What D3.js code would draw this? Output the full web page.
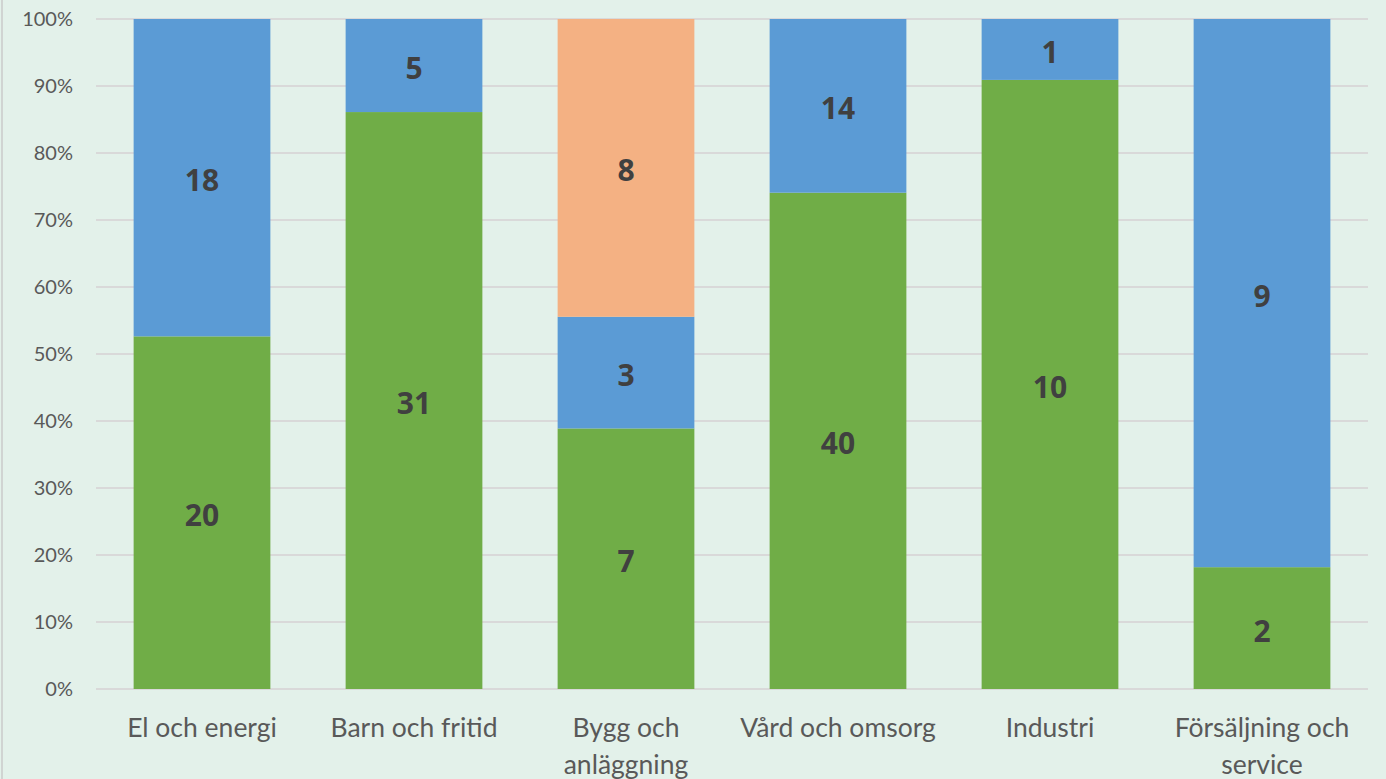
<!DOCTYPE html>
<html><head><meta charset="utf-8">
<script src="https://cdn.jsdelivr.net/npm/d3@7"></script>
<style>
html,body{margin:0;padding:0;background:#E3F1EA;}
svg{display:block;}
</style></head>
<body>
<svg id="chart" width="1386" height="779"></svg>
<script>
const categories = ["El och energi","Barn och fritid","Bygg och anläggning","Vård och omsorg","Industri","Försäljning och service"];
const categoryLines = [["El och energi"],["Barn och fritid"],["Bygg och","anläggning"],["Vård och omsorg"],["Industri"],["Försäljning och","service"]];
const seriesGreen = [20,31,7,40,10,2];
const seriesBlue = [18,5,3,14,1,9];
const seriesOrange = [0,0,8,0,0,0];
const tickValues = [0,0.1,0.2,0.3,0.4,0.5,0.6,0.7,0.8,0.9,1];
const seriesKeys = ["green","blue","orange"];
const seriesColors = ["#70AD47","#5B9BD5","#F4B183"];

const svg = d3.select("#chart");
const W = 1386, H = 779;
const m = {left:96, right:18, top:19, bottom:90};
const x = d3.scaleBand().domain(categories).range([m.left, W-m.right]).paddingInner(0.355).paddingOuter(0.1775);
const y = d3.scaleLinear().domain([0,1]).range([H-m.bottom, m.top]);

svg.append("rect").attr("width",W).attr("height",H).attr("fill","#E3F1EA");
svg.append("line").attr("x1",2).attr("x2",2).attr("y1",0).attr("y2",H).attr("stroke","#D0D4D2").attr("stroke-width",2);

const rows = categories.map((c,i)=>{
  const tot = seriesGreen[i]+seriesBlue[i]+seriesOrange[i];
  return {cat:c, green:seriesGreen[i]/tot, blue:seriesBlue[i]/tot, orange:seriesOrange[i]/tot,
          raw:{green:seriesGreen[i], blue:seriesBlue[i], orange:seriesOrange[i]}};
});

// gridlines
svg.append("g").selectAll("line").data(tickValues).join("line")
  .attr("x1",m.left).attr("x2",W-m.right)
  .attr("y1",d=>y(d)).attr("y2",d=>y(d))
  .attr("stroke","#D9D9D9").attr("stroke-width",2);

// y axis labels
const yAxis = d3.axisLeft(y).tickValues(tickValues).tickFormat(d3.format(".0%")).tickSize(0).tickPadding(23);
const ga = svg.append("g").attr("transform",`translate(${m.left},0)`).call(yAxis);
ga.select(".domain").remove();
ga.selectAll("text").attr("font-family","Lato, 'Open Sans', sans-serif").attr("font-size",20).attr("fill","#595959");

const stack = d3.stack().keys(seriesKeys)(rows);
const gs = svg.append("g").selectAll("g").data(stack).join("g").attr("fill",(d,i)=>seriesColors[i]);
gs.selectAll("rect").data(d=>d.map(v=>Object.assign(v,{key:d.key}))).join("rect")
  .attr("x",d=>x(d.data.cat)).attr("width",x.bandwidth())
  .attr("y",d=>y(d[1])).attr("height",d=>y(d[0])-y(d[1]));

// data labels
stack.forEach(s=>{
  svg.append("g").selectAll("text").data(s.filter(d=>d.data.raw[s.key]>0)).join("text")
    .attr("x",d=>x(d.data.cat)+x.bandwidth()/2)
    .attr("y",d=>y((d[0]+d[1])/2)+3)
    .attr("dy","0.35em").attr("text-anchor","middle")
    .attr("font-family","'Open Sans', Lato, sans-serif").attr("font-weight","bold").attr("font-size",30)
    .attr("fill","#404040").text(d=>d.data.raw[s.key]);
});

// x labels
const gx = svg.append("g");
categories.forEach((c,i)=>{
  const t = gx.append("text").attr("x",x(c)+x.bandwidth()/2).attr("y",737)
    .attr("text-anchor","middle").attr("font-family","Lato, 'Open Sans', sans-serif")
    .attr("font-size",26.5).attr("fill","#595959");
  categoryLines[i].forEach((ln,j)=>t.append("tspan").attr("x",x(c)+x.bandwidth()/2).attr("dy", j===0?0:37).text(ln));
});
</script>
</body></html>
